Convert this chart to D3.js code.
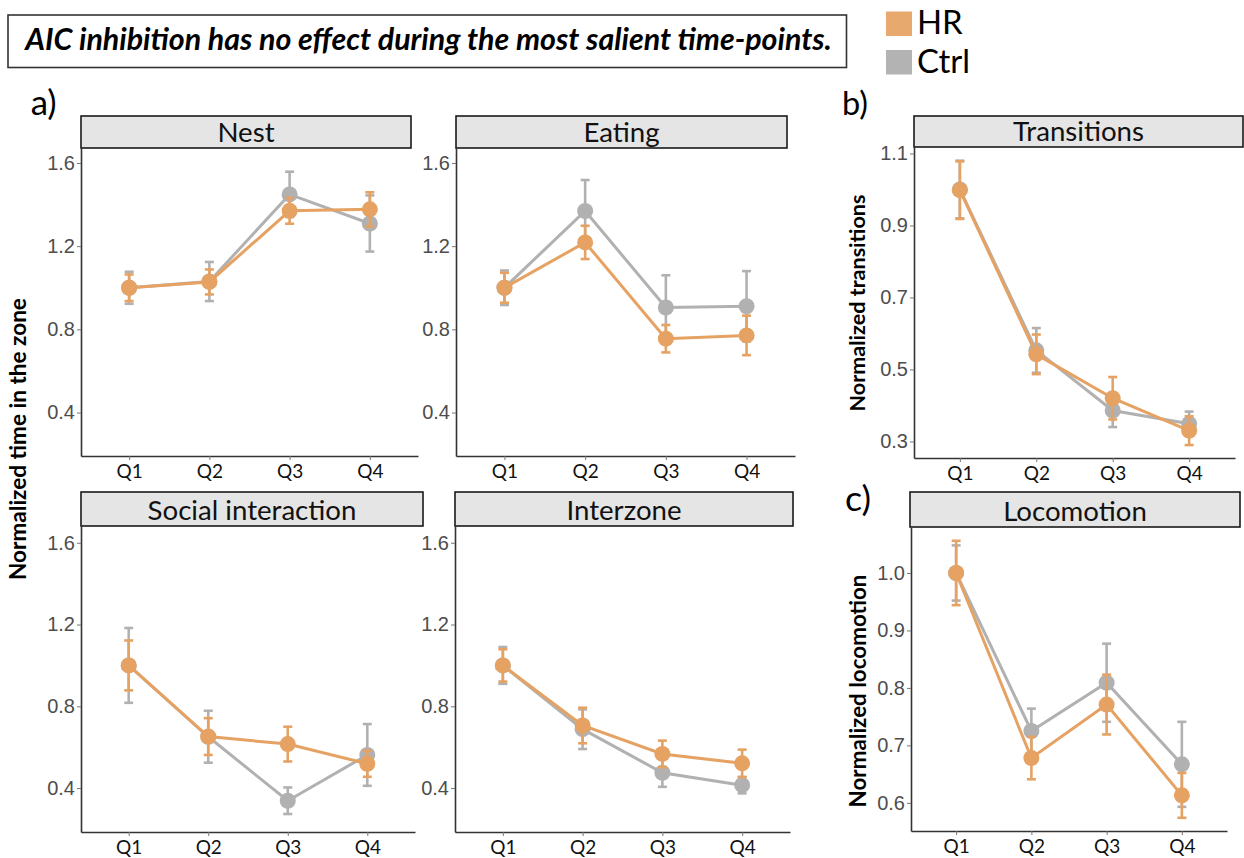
<!DOCTYPE html>
<html><head><meta charset="utf-8">
<script src="https://cdn.jsdelivr.net/npm/d3@7"></script>
<style>body{margin:0;background:#fff} svg{display:block}</style>
</head><body>
<svg id="c" width="1244" height="858"></svg>
<script>
// ---------- data ----------
const quarters = ["Q1", "Q2", "Q3", "Q4"];
const groups = ["HR", "Ctrl"];

const nestHR = [1.00, 1.028, 1.37, 1.377];
const nestHRse = [0.064, 0.060, 0.062, 0.082];
const nestCtrl = [1.00, 1.03, 1.449, 1.309];
const nestCtrlse = [0.077, 0.094, 0.109, 0.135];

const eatingHR = [1.00, 1.218, 0.755, 0.771];
const eatingHRse = [0.072, 0.080, 0.066, 0.095];
const eatingCtrl = [1.00, 1.369, 0.905, 0.911];
const eatingCtrlse = [0.083, 0.149, 0.155, 0.169];

const socialHR = [1.00, 0.652, 0.615, 0.519];
const socialHRse = [0.122, 0.090, 0.085, 0.064];
const socialCtrl = [1.00, 0.651, 0.338, 0.562];
const socialCtrlse = [0.183, 0.127, 0.065, 0.151];

const interHR = [1.00, 0.706, 0.567, 0.521];
const interHRse = [0.079, 0.087, 0.065, 0.067];
const interCtrl = [1.00, 0.688, 0.475, 0.414];
const interCtrlse = [0.090, 0.097, 0.069, 0.040];

const transHR = [0.998, 0.542, 0.420, 0.330];
const transHRse = [0.080, 0.055, 0.059, 0.040];
const transCtrl = [1.00, 0.553, 0.386, 0.349];
const transCtrlse = [0.080, 0.062, 0.046, 0.034];

const locoHR = [1.00, 0.678, 0.771, 0.613];
const locoHRse = [0.056, 0.037, 0.052, 0.039];
const locoCtrl = [1.00, 0.725, 0.809, 0.667];
const locoCtrlse = [0.048, 0.039, 0.068, 0.074];

const ticksA = [0.4, 0.8, 1.2, 1.6];
const ticksB = [0.3, 0.5, 0.7, 0.9, 1.1];
const ticksC = [0.6, 0.7, 0.8, 0.9, 1.0];

const titleText = "AIC inhibition has no effect during the most salient time-points.";
const yLabelA = "Normalized time in the zone";
const yLabelB = "Normalized transitions";
const yLabelC = "Normalized locomotion";

// ---------- style ----------
const colHR = "#E5A263";
const colCtrl = "#B1B1B1";
const calibri = "Lato, 'Open Sans', sans-serif";
const arial = "Liberation Sans, Arial, sans-serif";

const svg = d3.select("#c");

function fit(sel, target) {
  sel.attr("font-size", 20);
  const w = sel.node().getComputedTextLength();
  const s = 20 * target / w;
  sel.attr("font-size", s);
  return s;
}

// ---------- panels ----------
const panels = [
  {title: "Nest", hr: nestHR, hrse: nestHRse, ct: nestCtrl, ctse: nestCtrlse, ticks: ticksA,
   dom: [0.191, 1.672], l: 81, r: 418, t: 148, b: 456, sl: 81, sr: 411, st: 116},
  {title: "Eating", hr: eatingHR, hrse: eatingHRse, ct: eatingCtrl, ctse: eatingCtrlse, ticks: ticksA,
   dom: [0.191, 1.672], l: 456, r: 795, t: 148, b: 456, sl: 456, sr: 787, st: 116},
  {title: "Social interaction", hr: socialHR, hrse: socialHRse, ct: socialCtrl, ctse: socialCtrlse, ticks: ticksA,
   dom: [0.185, 1.682], l: 81, r: 415, t: 526, b: 832, sl: 81, sr: 423, st: 492},
  {title: "Interzone", hr: interHR, hrse: interHRse, ct: interCtrl, ctse: interCtrlse, ticks: ticksA,
   dom: [0.185, 1.682], l: 455, r: 790, t: 526, b: 832, sl: 455, sr: 793, st: 492},
  {title: "Transitions", hr: transHR, hrse: transHRse, ct: transCtrl, ctse: transCtrlse, ticks: ticksB,
   dom: [0.254, 1.118], l: 914, r: 1235, t: 147, b: 458, sl: 914, sr: 1243, st: 116},
  {title: "Locomotion", hr: locoHR, hrse: locoHRse, ct: locoCtrl, ctse: locoCtrlse, ticks: ticksC,
   dom: [0.551, 1.080], l: 911, r: 1227, t: 527, b: 831, sl: 910, sr: 1240, st: 492}
];

let stripSize = null;

panels.forEach(p => {
  const g = svg.append("g");
  const x = d3.scalePoint().domain(quarters).range([p.l, p.r]).padding(0.6);
  const y = d3.scaleLinear().domain(p.dom).range([p.b, p.t]);

  // strip
  g.append("rect").attr("x", p.sl).attr("y", p.st).attr("width", p.sr - p.sl).attr("height", p.t - p.st)
    .attr("fill", "#E5E5E5").attr("stroke", "#1a1a1a").attr("stroke-width", 1.6);
  const st = g.append("text").attr("x", (p.sl + p.sr) / 2).attr("y", p.t - 6.3)
    .attr("text-anchor", "middle").attr("font-family", calibri).attr("fill", "#111").text(p.title);
  if (stripSize === null) {
    const tmp = svg.append("text").attr("font-family", calibri).text("Social interaction");
    stripSize = fit(tmp, 209);
    tmp.remove();
  }
  st.attr("font-size", stripSize);

  // axes
  const ya = g.append("g").attr("transform", `translate(${p.l},0)`)
    .call(d3.axisLeft(y).tickValues(p.ticks).tickSize(4).tickSizeOuter(0).tickPadding(2).tickFormat(d3.format(".1f")));
  ya.attr("font-size", 20).attr("font-family", arial);
  ya.select(".domain").attr("stroke", "#333").attr("stroke-width", 1.6);
  ya.selectAll(".tick line").attr("stroke", "#777").attr("stroke-width", 1);
  ya.selectAll(".tick text").attr("fill", "#4D4D4D").attr("font-size", 20).attr("font-family", arial);

  const xa = g.append("g").attr("transform", `translate(0,${p.b})`)
    .call(d3.axisBottom(x).tickSize(4).tickSizeOuter(0).tickPadding(5));
  xa.attr("font-size", 19).attr("font-family", calibri);
  xa.select(".domain").attr("stroke", "#333").attr("stroke-width", 1.6);
  xa.selectAll(".tick line").attr("stroke", "#777").attr("stroke-width", 1);
  xa.selectAll(".tick text").attr("fill", "#111").attr("font-size", 19).attr("font-family", calibri);

  // series: Ctrl first, HR on top
  const series = [
    {name: "Ctrl", m: p.ct, se: p.ctse, col: colCtrl},
    {name: "HR", m: p.hr, se: p.hrse, col: colHR}
  ];
  series.forEach(s => {
    const pts = quarters.map((q, i) => ({q, m: s.m[i], se: s.se[i]}));
    const line = d3.line().x(d => x(d.q)).y(d => y(d.m));
    g.append("path").datum(pts).attr("d", line).attr("fill", "none")
      .attr("stroke", s.col).attr("stroke-width", 3);
    const eb = g.append("g").attr("stroke", s.col).attr("stroke-width", 2.6);
    eb.selectAll(".v").data(pts).join("line")
      .attr("x1", d => x(d.q)).attr("x2", d => x(d.q))
      .attr("y1", d => y(d.m - d.se)).attr("y2", d => y(d.m + d.se));
    eb.selectAll(".t").data(pts).join("line")
      .attr("x1", d => x(d.q) - 4.5).attr("x2", d => x(d.q) + 4.5)
      .attr("y1", d => y(d.m + d.se)).attr("y2", d => y(d.m + d.se));
    eb.selectAll(".bt").data(pts).join("line")
      .attr("x1", d => x(d.q) - 4.5).attr("x2", d => x(d.q) + 4.5)
      .attr("y1", d => y(d.m - d.se)).attr("y2", d => y(d.m - d.se));
    g.append("g").selectAll("circle").data(pts).join("circle")
      .attr("cx", d => x(d.q)).attr("cy", d => y(d.m)).attr("r", 8).attr("fill", s.col);
  });
});

// ---------- y labels ----------
function yLabel(txt, cx, cy, w) {
  const t = svg.append("text").attr("transform", `translate(${cx},${cy}) rotate(-90)`)
    .attr("text-anchor", "middle").attr("dominant-baseline", "central")
    .attr("font-family", calibri).attr("font-weight", "bold").attr("fill", "#000").text(txt);
  fit(t, w);
}
yLabel(yLabelA, 17, 439, 282);
yLabel(yLabelB, 857, 303, 217);
yLabel(yLabelC, 857, 691, 233);

// ---------- title box ----------
svg.append("rect").attr("x", 8).attr("y", 15).attr("width", 838.5).attr("height", 52.5)
  .attr("fill", "#fff").attr("stroke", "#333").attr("stroke-width", 1.6);
const tt = svg.append("text").attr("x", 428.5).attr("y", 50).attr("text-anchor", "middle")
  .attr("font-family", calibri).attr("font-weight", "bold").attr("font-style", "italic")
  .attr("fill", "#000").text(titleText);
fit(tt, 807);

// ---------- legend ----------
const leg = svg.append("g");
groups.forEach((gname, i) => {
  leg.append("rect").attr("x", 886).attr("y", 11.5 + i * 38.5).attr("width", 26).attr("height", 24.5)
    .attr("fill", gname === "HR" ? "#E8A96E" : "#B3B3B3");
});
const lt1 = leg.append("text").attr("x", 917).attr("y", 34.3).attr("font-family", calibri).attr("fill", "#000").text(groups[0]);
const lt2 = leg.append("text").attr("x", 917).attr("y", 73.3).attr("font-family", calibri).attr("fill", "#000").text(groups[1]);
const ls = fit(lt2, 53);
lt1.attr("font-size", ls);

// ---------- panel letters ----------
[["a)", 30.7, 115], ["b)", 842, 115], ["c)", 845, 511]].forEach(([t, x0, y0]) => {
  const e = svg.append("text").attr("x", x0).attr("y", y0).attr("font-family", calibri)
    .attr("fill", "#000").text(t);
  fit(e, 26);
});
</script></body></html>
